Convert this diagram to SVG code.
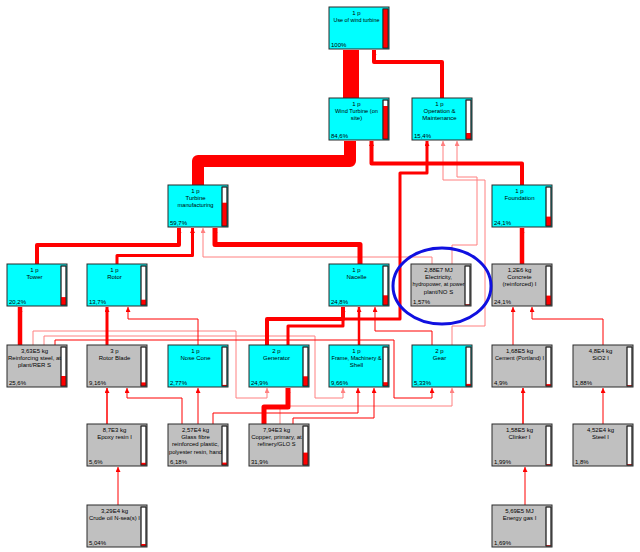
<svg xmlns="http://www.w3.org/2000/svg" width="640" height="552" viewBox="0 0 640 552">
<defs>
<style>
.box{stroke:#2a2a2a;stroke-width:1}
.cy{fill:#00ffff}
.gr{fill:#c0c0c0}
.bar{fill:#ffffff;stroke:#222;stroke-width:0.8}
.barf{fill:#ff0000}
.bo{fill:none;stroke:#222;stroke-width:0.8}
text{font-family:"Liberation Sans",Arial,sans-serif;font-size:6px;fill:#000}
.t{text-anchor:middle}
.pc{text-anchor:start}
.c{fill:none;stroke:#ff0000;stroke-linejoin:round}
.p{fill:none;stroke:#ff8080;stroke-linejoin:round;stroke-width:1}
.w1{stroke-width:1}
.a{marker-end:url(#ar)}
.ap{marker-end:url(#arp)}
</style>
<marker id="ar" markerUnits="userSpaceOnUse" markerWidth="5" markerHeight="5" viewBox="0 0 5 5" refX="5" refY="2.5" orient="auto"><path d="M0,0 L5,2.5 L0,5 z" fill="#ff0000"/></marker>
<marker id="arp" markerUnits="userSpaceOnUse" markerWidth="5" markerHeight="5" viewBox="0 0 5 5" refX="5" refY="2.5" orient="auto"><path d="M0,0 L5,2.5 L0,5 z" fill="#ff8080"/></marker>
</defs>
<rect x="0" y="0" width="640" height="552" fill="#ffffff"/>

<g id="connectors">
<!-- pink thin -->
<path class="p ap" d="M432,264 V257 H203 V228"/>
<path class="p ap" d="M452,264 V245 H477 V177 H457 V141"/>
<path class="p ap" d="M452,345 V326 H485 V180 H443 V141"/>
<path class="p ap" d="M33,345 V331 H236 V398 H267 V388"/>
<path class="p ap" d="M44,345 V336 H315 V398 H343 V388"/>
<path class="p ap" d="M280,424 V406 H452 V388"/>
<!-- red thin -->
<path class="c w1 a" d="M55,345 V340 H394 V398 H432 V388"/>
<path class="c w1 a" d="M432,345 V331 H375 V307"/>
<path class="c w1 a" d="M198,345 V319 H128 V307"/>
<path class="c w1 a" d="M182,424 V398 H127 V388"/>
<path class="c w1 a" d="M198,424 V388"/>
<path class="c w1 a" d="M213,424 V413 H358 V388"/>
<path class="c w1 a" d="M293,424 V418 H374 V388"/>
<path class="c w1 a" d="M513,345 V307"/>
<path class="c w1 a" d="M603,345 V319 H532 V307"/>
<path class="c a" stroke-width="1.5" d="M523,424 V388"/>
<path class="c w1 a" d="M603,424 V388"/>
<path class="c w1 a" d="M118,505 V467"/>
<path class="c w1 a" d="M525,505 V467"/>
<path class="c a" stroke-width="1.5" d="M107,424 V388"/>
<!-- medium / thick -->
<path class="c a" stroke-width="3" d="M288,345 V326 H343 V319 H400 V173 H427 V141"/>
<path class="c a" stroke-width="4" d="M267,345 V319 H343 V307"/>
<path class="c a" stroke-width="2.5" d="M359,345 V307"/>
<path class="c a" stroke-width="3" d="M107,345 V307"/>
<path class="c a" stroke-width="4.5" d="M20,345 V307"/>
<path class="c a" stroke-width="5" d="M264,424 V407 H288 V388"/>
<path class="c a" stroke-width="4.5" d="M522,264 V228"/>
<path class="c a" stroke-width="4" d="M37,264 V245 H179 V228"/>
<path class="c a" stroke-width="3" d="M117,264 V255.5 H192.5 V228"/>
<path class="c a" stroke-width="5" d="M360,264 V244.5 H215 V228"/>
<path class="c a" stroke-width="4" d="M522,185 V163.5 H371.5 V141"/>
<path class="c" stroke-width="12" d="M198,185 V161 H350 V141"/>
<path class="c a" stroke-width="4" d="M442,98 V62 H374 V50"/>
<path class="c" stroke-width="16" d="M351,98 V50"/>
</g>

<g id="n-use"><rect class="box cy" x="329" y="7" width="60" height="42"/><rect class="bar" x="383" y="9" width="5" height="39"/><rect class="barf" x="383" y="9" width="5" height="39"/><rect class="bo" x="383" y="9" width="5" height="39"/><text class="t" x="356.5" y="15">1 p</text><text class="t" x="356.5" y="22.2" textLength="46" lengthAdjust="spacingAndGlyphs">Use of wind turbine</text><text class="pc" x="331" y="46.8">100%</text></g>

<g id="n-wt"><rect class="box cy" x="329" y="98" width="60" height="42"/><rect class="bar" x="383" y="100" width="5" height="39"/><rect class="barf" x="383" y="106" width="5" height="33"/><rect class="bo" x="383" y="100" width="5" height="39"/><text class="t" x="356.5" y="106">1 p</text><text class="t" x="356.5" y="113.2" textLength="43" lengthAdjust="spacingAndGlyphs">Wind Turbine (on</text><text class="t" x="356.5" y="120.4">site)</text><text class="pc" x="331" y="137.8">84,6%</text></g>

<g id="n-om"><rect class="box cy" x="412" y="98" width="60" height="42"/><rect class="bar" x="466" y="100" width="5" height="39"/><rect class="barf" x="466" y="133" width="5" height="6"/><rect class="bo" x="466" y="100" width="5" height="39"/><text class="t" x="439.5" y="106">1 p</text><text class="t" x="439.5" y="113.2">Operation &amp;</text><text class="t" x="439.5" y="120.4">Maintenance</text><text class="pc" x="414" y="137.8">15,4%</text></g>

<g id="n-tm"><rect class="box cy" x="168" y="185" width="60" height="42"/><rect class="bar" x="222" y="187" width="5" height="39"/><rect class="barf" x="222" y="202.7" width="5" height="23.3"/><rect class="bo" x="222" y="187" width="5" height="39"/><text class="t" x="195.5" y="193">1 p</text><text class="t" x="195.5" y="200.2">Turbine</text><text class="t" x="195.5" y="207.4" textLength="36" lengthAdjust="spacingAndGlyphs">manufacturing</text><text class="pc" x="170" y="224.8">59,7%</text></g>

<g id="n-found"><rect class="box cy" x="492" y="185" width="60" height="42"/><rect class="bar" x="546" y="187" width="5" height="39"/><rect class="barf" x="546" y="216.6" width="5" height="9.4"/><rect class="bo" x="546" y="187" width="5" height="39"/><text class="t" x="519.5" y="193">1 p</text><text class="t" x="519.5" y="200.2">Foundation</text><text class="pc" x="494" y="224.8">24,1%</text></g>

<g id="n-tower"><rect class="box cy" x="7" y="264" width="60" height="42"/><rect class="bar" x="61" y="266" width="5" height="39"/><rect class="barf" x="61" y="297.1" width="5" height="7.9"/><rect class="bo" x="61" y="266" width="5" height="39"/><text class="t" x="34.5" y="272">1 p</text><text class="t" x="34.5" y="279.2">Tower</text><text class="pc" x="9" y="303.8">20,2%</text></g>

<g id="n-rotor"><rect class="box cy" x="87" y="264" width="60" height="42"/><rect class="bar" x="141" y="266" width="5" height="39"/><rect class="barf" x="141" y="299.7" width="5" height="5.3"/><rect class="bo" x="141" y="266" width="5" height="39"/><text class="t" x="114.5" y="272">1 p</text><text class="t" x="114.5" y="279.2">Rotor</text><text class="pc" x="89" y="303.8">13,7%</text></g>

<g id="n-nacelle"><rect class="box cy" x="329" y="264" width="60" height="42"/><rect class="bar" x="383" y="266" width="5" height="39"/><rect class="barf" x="383" y="295.3" width="5" height="9.7"/><rect class="bo" x="383" y="266" width="5" height="39"/><text class="t" x="356.5" y="272">1 p</text><text class="t" x="356.5" y="279.2">Nacelle</text><text class="pc" x="331" y="303.8">24,8%</text></g>

<g id="n-elec"><rect class="box gr" x="411" y="264" width="60" height="42"/><rect class="bar" x="465" y="266" width="5" height="39"/><rect class="barf" x="465" y="304.4" width="5" height="0.6"/><rect class="bo" x="465" y="266" width="5" height="39"/><text class="t" x="438.5" y="272">2,88E7 MJ</text><text class="t" x="438.5" y="279.2">Electricity,</text><text class="t" x="438.5" y="286.4" textLength="52" lengthAdjust="spacingAndGlyphs">hydropower, at power</text><text class="t" x="438.5" y="293.6">plant/NO S</text><text class="pc" x="413" y="303.8">1,57%</text></g>

<g id="n-concrete"><rect class="box gr" x="492" y="264" width="60" height="42"/><rect class="bar" x="546" y="266" width="5" height="39"/><rect class="barf" x="546" y="295.6" width="5" height="9.4"/><rect class="bo" x="546" y="266" width="5" height="39"/><text class="t" x="519.5" y="272">1,2E6 kg</text><text class="t" x="519.5" y="279.2">Concrete</text><text class="t" x="519.5" y="286.4">(reinforced) I</text><text class="pc" x="494" y="303.8">24,1%</text></g>

<g id="n-rsteel"><rect class="box gr" x="7" y="345" width="60" height="42"/><rect class="bar" x="61" y="347" width="5" height="39"/><rect class="barf" x="61" y="376" width="5" height="10"/><rect class="bo" x="61" y="347" width="5" height="39"/><text class="t" x="34.5" y="353">3,63E5 kg</text><text class="t" x="34.5" y="360.2">Reinforcing steel, at</text><text class="t" x="34.5" y="367.4">plant/RER S</text><text class="pc" x="9" y="384.8">25,6%</text></g>

<g id="n-rblade"><rect class="box gr" x="87" y="345" width="60" height="42"/><rect class="bar" x="141" y="347" width="5" height="39"/><rect class="barf" x="141" y="382.4" width="5" height="3.6"/><rect class="bo" x="141" y="347" width="5" height="39"/><text class="t" x="114.5" y="353">3 p</text><text class="t" x="114.5" y="360.2">Rotor Blade</text><text class="pc" x="89" y="384.8">9,16%</text></g>

<g id="n-nose"><rect class="box cy" x="168" y="345" width="60" height="42"/><rect class="bar" x="222" y="347" width="5" height="39"/><rect class="barf" x="222" y="384.9" width="5" height="1.1"/><rect class="bo" x="222" y="347" width="5" height="39"/><text class="t" x="195.5" y="353">1 p</text><text class="t" x="195.5" y="360.2">Nose Cone</text><text class="pc" x="170" y="384.8">2,77%</text></g>

<g id="n-gen"><rect class="box cy" x="249" y="345" width="60" height="42"/><rect class="bar" x="303" y="347" width="5" height="39"/><rect class="barf" x="303" y="376.3" width="5" height="9.7"/><rect class="bo" x="303" y="347" width="5" height="39"/><text class="t" x="276.5" y="353">2 p</text><text class="t" x="276.5" y="360.2">Generator</text><text class="pc" x="251" y="384.8">24,9%</text></g>

<g id="n-frame"><rect class="box cy" x="329" y="345" width="60" height="42"/><rect class="bar" x="383" y="347" width="5" height="39"/><rect class="barf" x="383" y="382.2" width="5" height="3.8"/><rect class="bo" x="383" y="347" width="5" height="39"/><text class="t" x="356.5" y="353">1 p</text><text class="t" x="356.5" y="360.2" textLength="50" lengthAdjust="spacingAndGlyphs">Frame, Machinery &amp;</text><text class="t" x="356.5" y="367.4">Shell</text><text class="pc" x="331" y="384.8">9,66%</text></g>

<g id="n-gear"><rect class="box cy" x="412" y="345" width="60" height="42"/><rect class="bar" x="466" y="347" width="5" height="39"/><rect class="barf" x="466" y="383.9" width="5" height="2.1"/><rect class="bo" x="466" y="347" width="5" height="39"/><text class="t" x="439.5" y="353">2 p</text><text class="t" x="439.5" y="360.2">Gear</text><text class="pc" x="414" y="384.8">5,33%</text></g>

<g id="n-cement"><rect class="box gr" x="492" y="345" width="60" height="42"/><rect class="bar" x="546" y="347" width="5" height="39"/><rect class="barf" x="546" y="384.1" width="5" height="1.9"/><rect class="bo" x="546" y="347" width="5" height="39"/><text class="t" x="519.5" y="353">1,68E5 kg</text><text class="t" x="519.5" y="360.2" textLength="49" lengthAdjust="spacingAndGlyphs">Cement (Portland) I</text><text class="pc" x="494" y="384.8">4,9%</text></g>

<g id="n-sio2"><rect class="box gr" x="573" y="345" width="60" height="42"/><rect class="bar" x="627" y="347" width="5" height="39"/><rect class="barf" x="627" y="385.3" width="5" height="0.7"/><rect class="bo" x="627" y="347" width="5" height="39"/><text class="t" x="600.5" y="353">4,8E4 kg</text><text class="t" x="600.5" y="360.2">SiO2 I</text><text class="pc" x="575" y="384.8">1,88%</text></g>

<g id="n-epoxy"><rect class="box gr" x="87" y="424" width="60" height="42"/><rect class="bar" x="141" y="426" width="5" height="39"/><rect class="barf" x="141" y="462.8" width="5" height="2.2"/><rect class="bo" x="141" y="426" width="5" height="39"/><text class="t" x="114.5" y="432">8,7E3 kg</text><text class="t" x="114.5" y="439.2">Epoxy resin I</text><text class="pc" x="89" y="463.8">5,6%</text></g>

<g id="n-glass"><rect class="box gr" x="168" y="424" width="60" height="42"/><rect class="bar" x="222" y="426" width="5" height="39"/><rect class="barf" x="222" y="462.6" width="5" height="2.4"/><rect class="bo" x="222" y="426" width="5" height="39"/><text class="t" x="195.5" y="432">2,57E4 kg</text><text class="t" x="195.5" y="439.2">Glass fibre</text><text class="t" x="195.5" y="446.4" textLength="47" lengthAdjust="spacingAndGlyphs">reinforced plastic,</text><text class="t" x="195.5" y="453.6" textLength="53" lengthAdjust="spacingAndGlyphs">polyester resin, hand</text><text class="pc" x="170" y="463.8">6,18%</text></g>

<g id="n-copper"><rect class="box gr" x="249" y="424" width="60" height="42"/><rect class="bar" x="303" y="426" width="5" height="39"/><rect class="barf" x="303" y="452.6" width="5" height="12.4"/><rect class="bo" x="303" y="426" width="5" height="39"/><text class="t" x="276.5" y="432">7,94E3 kg</text><text class="t" x="276.5" y="439.2">Copper, primary, at</text><text class="t" x="276.5" y="446.4" textLength="38" lengthAdjust="spacingAndGlyphs">refinery/GLO S</text><text class="pc" x="251" y="463.8">31,9%</text></g>

<g id="n-clinker"><rect class="box gr" x="492" y="424" width="60" height="42"/><rect class="bar" x="546" y="426" width="5" height="39"/><rect class="barf" x="546" y="464.2" width="5" height="0.8"/><rect class="bo" x="546" y="426" width="5" height="39"/><text class="t" x="519.5" y="432">1,58E5 kg</text><text class="t" x="519.5" y="439.2">Clinker I</text><text class="pc" x="494" y="463.8">1,99%</text></g>

<g id="n-steel"><rect class="box gr" x="573" y="424" width="60" height="42"/><rect class="bar" x="627" y="426" width="5" height="39"/><rect class="barf" x="627" y="464.3" width="5" height="0.7"/><rect class="bo" x="627" y="426" width="5" height="39"/><text class="t" x="600.5" y="432">4,52E4 kg</text><text class="t" x="600.5" y="439.2">Steel I</text><text class="pc" x="575" y="463.8">1,8%</text></g>

<g id="n-crude"><rect class="box gr" x="87" y="505" width="60" height="42"/><rect class="bar" x="141" y="507" width="5" height="39"/><rect class="barf" x="141" y="544" width="5" height="2"/><rect class="bo" x="141" y="507" width="5" height="39"/><text class="t" x="114.5" y="513">3,29E4 kg</text><text class="t" x="114.5" y="520.2" textLength="51" lengthAdjust="spacingAndGlyphs">Crude oil N-sea(s) I</text><text class="pc" x="89" y="544.8">5,04%</text></g>

<g id="n-egas"><rect class="box gr" x="492" y="505" width="60" height="42"/><rect class="bar" x="546" y="507" width="5" height="39"/><rect class="barf" x="546" y="545.3" width="5" height="0.7"/><rect class="bo" x="546" y="507" width="5" height="39"/><text class="t" x="519.5" y="513">5,69E5 MJ</text><text class="t" x="519.5" y="520.2">Energy gas I</text><text class="pc" x="494" y="544.8">1,69%</text></g>

<ellipse id="highlight" cx="442" cy="286" rx="49" ry="38" fill="none" stroke="#1010e0" stroke-width="3"/>
</svg>
